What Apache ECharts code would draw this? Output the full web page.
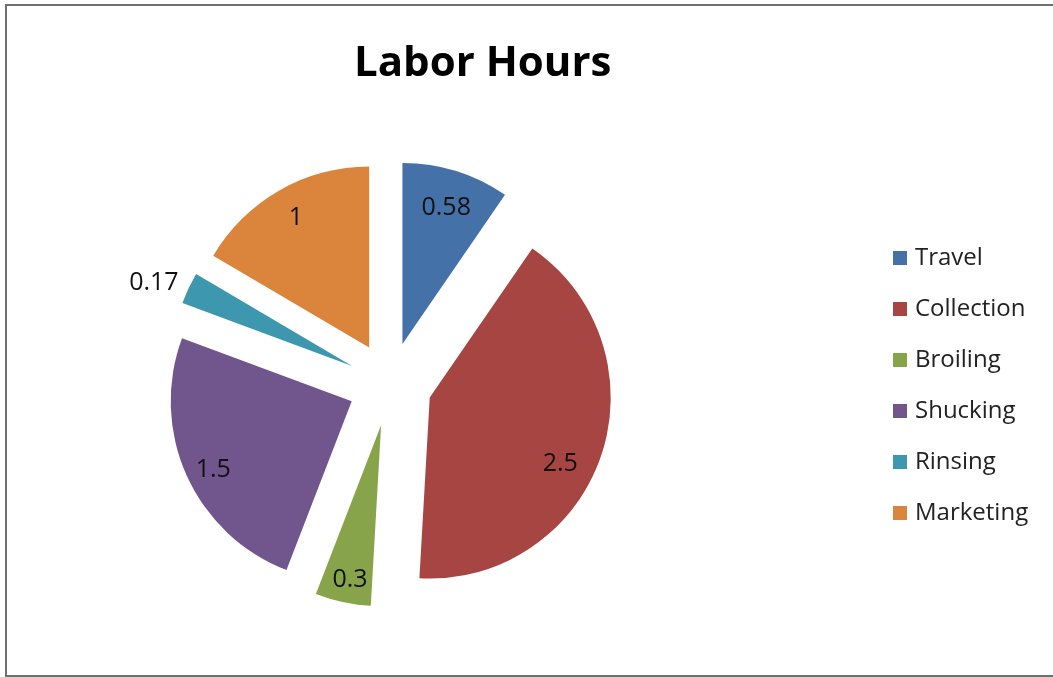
<!DOCTYPE html>
<html lang="en">
<head>
  <meta charset="UTF-8">
  <title>Labor Hours</title>
  <script src="https://cdn.jsdelivr.net/npm/echarts@6/dist/echarts.min.js"></script>
  <style>
    html, body { margin: 0; padding: 0; background: #fff; }
    #chart { width: 1053px; height: 677px; }
  </style>
</head>
<body>
<div id="chart"></div>
<script>
  // 数据
  var tasks = ['Travel', 'Collection', 'Broiling', 'Shucking', 'Rinsing', 'Marketing'];
  var hours = [0.58, 2.5, 0.3, 1.5, 0.17, 1];
  var colors = ['#4571A9', '#A74542', '#88A44B', '#71568E', '#3D97AE', '#DB843C'];

  var font = "'Open Sans', 'Noto Sans', sans-serif";

  // 饼图数据（每块都分离）
  var sliceData = tasks.map(function (name, i) {
    return { name: name, value: hours[i], selected: true, itemStyle: { color: colors[i] } };
  });
  // 标签层：透明扇环，标签放在外圈 80% 处
  var labelData = tasks.map(function (name, i) {
    var item = { name: name, value: hours[i], selected: true };
    if (name === 'Rinsing') {
      item.label = { position: 'outside' };
    }
    return item;
  });

  // 标签微调（模仿 Excel 的“最佳位置”）
  var labelNudge = {
    Travel: [0, 5],
    Collection: [-9, 19],
    Broiling: [0, 11],
    Shucking: [-4, 8],
    Rinsing: [0, -5],
    Marketing: [0, -2]
  };

  var myChart = echarts.init(document.getElementById('chart'));
  var option = {
    animation: false,
    color: colors,
    title: {
      text: 'Labor Hours',
      left: 349,
      top: 38,
      textStyle: { fontFamily: font, fontSize: 42, fontWeight: 'bold', color: '#000' }
    },
    legend: {
      orient: 'vertical',
      left: 893,
      top: 246,
      padding: 0,
      itemWidth: 14,
      itemHeight: 14,
      itemGap: 27,
      icon: 'rect',
      data: tasks,
      textStyle: { fontFamily: font, fontSize: 24, color: '#222', lineHeight: 24, padding: [0, 0, 0, 3] }
    },
    graphic: [{
      type: 'rect',
      shape: { x: 6, y: 5, width: 1060, height: 671 },
      style: { fill: 'none', stroke: '#6f6f6f', lineWidth: 2 },
      silent: true
    }],
    series: [
      {
        name: 'Labor Hours',
        type: 'pie',
        center: [390, 384],
        radius: 181,
        startAngle: 90,
        selectedMode: 'multiple',
        selectedOffset: 42,
        label: { show: false },
        labelLine: { show: false },
        emphasis: { scale: false },
        data: sliceData
      },
      {
        name: 'labels',
        type: 'pie',
        center: [390, 384],
        radius: [108, 181],
        startAngle: 90,
        selectedMode: 'multiple',
        selectedOffset: 42,
        silent: true,
        avoidLabelOverlap: false,
        itemStyle: { color: 'rgba(0,0,0,0)' },
        label: {
          show: true,
          position: 'inside',
          formatter: '{c}',
          fontFamily: font,
          fontSize: 25,
          color: '#111'
        },
        labelLine: { show: false, length: 0, length2: 5 },
        labelLayout: function (params) {
          var n = labelNudge[tasks[params.dataIndex]] || [0, 0];
          return { dx: n[0], dy: n[1] };
        },
        data: labelData
      }
    ]
  };
  option && myChart.setOption(option);
</script>
</body>
</html>
